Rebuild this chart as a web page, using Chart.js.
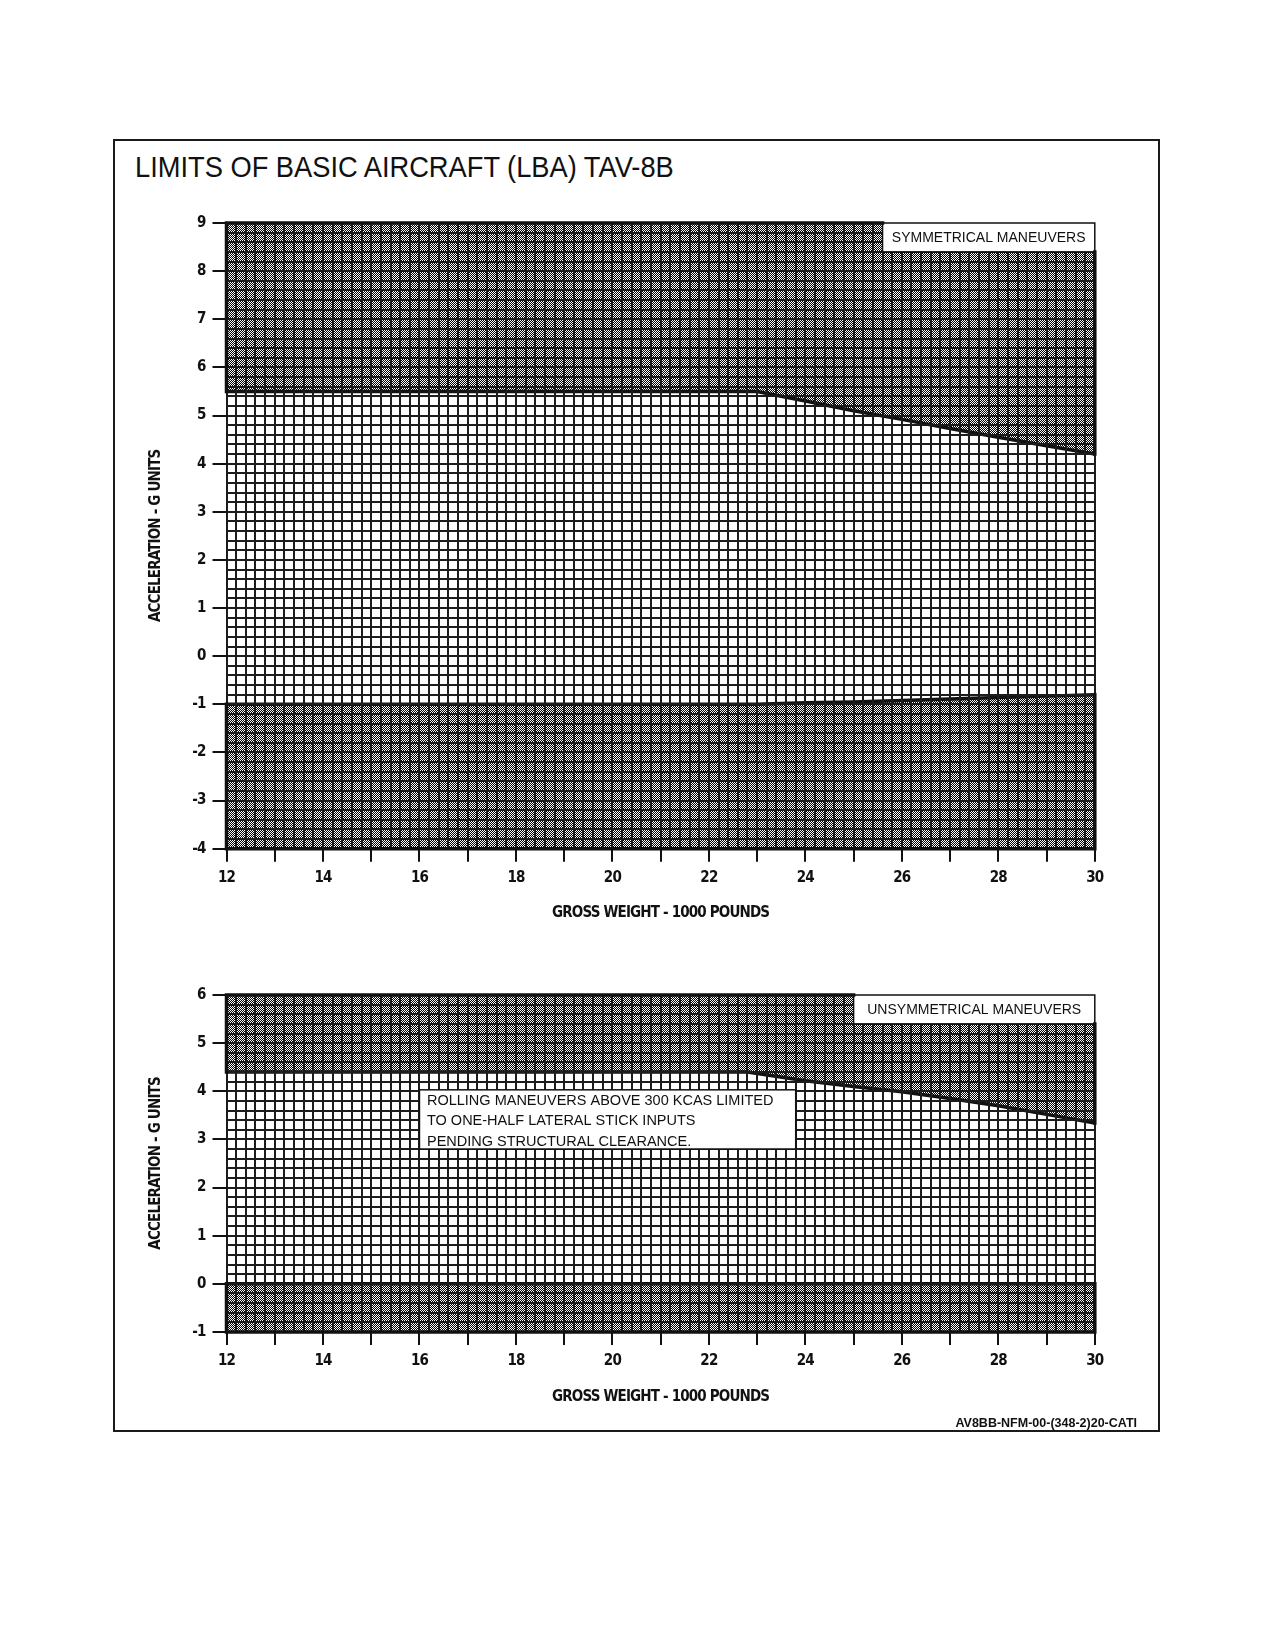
<!DOCTYPE html>
<html><head><meta charset="utf-8">
<script src="https://cdn.jsdelivr.net/npm/chart.js@4.4.0/dist/chart.umd.min.js"></script>
<style>
html,body{margin:0;padding:0;background:#fff;}
body{width:1275px;height:1650px;position:relative;overflow:hidden;font-family:'Liberation Sans',Arial,sans-serif;color:#111;}
#frame{position:absolute;left:113px;top:139px;width:1043px;height:1289px;border:2px solid #1a1a1a;}
#title{position:absolute;left:135px;top:153px;font-size:29px;line-height:29px;white-space:nowrap;transform-origin:0 0;transform:scaleX(0.94);}
#footer{position:absolute;right:138px;top:1417px;font-size:12.5px;line-height:12px;font-weight:bold;white-space:nowrap;}
canvas{position:absolute;left:0;}
#c1{top:193px;}
#c2{top:955px;}
</style></head>
<body>
<div id="frame"></div>
<div id="title">LIMITS OF BASIC AIRCRAFT (LBA) TAV-8B</div>
<canvas id="c1" width="1275" height="740"></canvas>
<canvas id="c2" width="1275" height="480"></canvas>
<div id="footer">AV8BB-NFM-00-(348-2)20-CATI</div>
<script>
// ---- data ----
const weightsSym = [12, 23, 24, 25, 26, 27, 28, 29, 30];
const symPositive = [5.5, 5.5, 5.3, 5.1, 4.92, 4.73, 4.55, 4.37, 4.2];
const symNegative = [-1.0, -1.0, -0.97, -0.95, -0.92, -0.89, -0.86, -0.83, -0.8];
const weightsUnsym = [12, 22.8, 24, 25, 26, 27, 28, 29, 30];
const unsymPositive = [4.4, 4.4, 4.22, 4.1, 3.99, 3.85, 3.7, 3.52, 3.34];
const unsymNegative = [0, 0, 0, 0, 0, 0, 0, 0, 0];
const xRange = [12, 30];
const symYRange = [-4, 9];
const unsymYRange = [-1, 6];
const xTickLabels = [12, 14, 16, 18, 20, 22, 24, 26, 28, 30];
const symYTickLabels = [-4, -3, -2, -1, 0, 1, 2, 3, 4, 5, 6, 7, 8, 9];
const unsymYTickLabels = [-1, 0, 1, 2, 3, 4, 5, 6];
const xTitle = 'GROSS WEIGHT - 1000 POUNDS';
const yTitle = 'ACCELERATION - G UNITS';
const symLabel = 'SYMMETRICAL MANEUVERS';
const unsymLabel = 'UNSYMMETRICAL MANEUVERS';
const symLabelBox = [25.6, 30, 8.4, 9];      // x0, x1, y0, y1 in data units
const unsymLabelBox = [25.0, 30, 5.4, 6];
const noteLines = ['ROLLING MANEUVERS ABOVE 300 KCAS LIMITED', 'TO ONE-HALF LATERAL STICK INPUTS', 'PENDING STRUCTURAL CLEARANCE.'];
const noteBox = [16.0, 23.8, 2.8, 4.03];

// ---- fonts ----
const FAM = '"DejaVu Sans Condensed", "Liberation Sans Narrow", "DejaVu Sans", sans-serif';
const tickFont = {family: FAM, size: 15, weight: 'bold'};
const axisTitleFont = {family: FAM, size: 15, weight: 'bold'};
const mc = document.createElement('canvas').getContext('2d');
mc.font = 'bold 15px ' + FAM;
const measured = mc.measureText(xTitle).width;
const LS = Math.max(-1.6, Math.min(0, (218 - measured) / (xTitle.length - 1)));
const SMALL = '14px "Liberation Sans", Arial, sans-serif';
const NOTE = '14.5px "Liberation Sans", Arial, sans-serif';

const INK = '#111';
const GRID = '#1c1c1c';
const isInt = v => Math.abs(v - Math.round(v)) < 1e-6;

function makePattern(ctx){
  const t = document.createElement('canvas'); t.width = 4; t.height = 4;
  const g = t.getContext('2d');
  g.fillStyle = '#fff'; g.fillRect(0,0,4,4);
  g.fillStyle = '#000';
  for (let y=0;y<4;y++) for (let x=0;x<4;x++) if ((x+y)%2===0) g.fillRect(x,y,1,1);
  return ctx.createPattern(t, 'repeat');
}

function scales(yr, yLabels, xH, yW){
  return {
    x: {
      type: 'linear', min: xRange[0], max: xRange[1],
      afterFit: s => { s.height = xH; },
      border: {display: false},
      grid: {z: 1, color: GRID, lineWidth: 2, tickLength: 13, tickWidth: 2,
             tickColor: c => isInt(c.tick.value) ? INK : 'rgba(0,0,0,0)'},
      ticks: {stepSize: 0.2, autoSkip: false, maxRotation: 0, minRotation: 0, padding: 7, color: INK, font: tickFont,
              callback: v => (isInt(v) && xTickLabels.includes(Math.round(v))) ? String(Math.round(v)) : ''},
      title: {display: true, text: xTitle, color: INK, font: axisTitleFont, padding: {top: 0, bottom: 7}}
    },
    y: {
      type: 'linear', min: yr[0], max: yr[1],
      afterFit: s => { s.width = yW; },
      border: {display: false},
      grid: {z: 1, color: GRID, lineWidth: 2, tickLength: 14, tickWidth: 2,
             tickColor: c => isInt(c.tick.value) ? INK : 'rgba(0,0,0,0)'},
      ticks: {stepSize: 0.2, autoSkip: false, padding: 7, color: INK, font: tickFont,
              callback: v => (isInt(v) && yLabels.includes(Math.round(v))) ? String(Math.round(v)) : ''},
      title: {display: true, text: yTitle, color: INK, font: axisTitleFont, padding: {top: 15, bottom: 0}}
    }
  };
}

const spacingPlugin = {
  id: 'spacing',
  beforeUpdate(chart){ chart.ctx.letterSpacing = LS + 'px'; },
  beforeDraw(chart){ chart.ctx.letterSpacing = LS + 'px'; }
};

function annotPlugin(labelText, labelBox, posFirst, posLast, negFirst, negLast, note){
  return {
    id: 'annot',
    afterDraw(chart){
      const {ctx, scales: {x, y}} = chart;
      const X = v => x.getPixelForValue(v), Y = v => y.getPixelForValue(v);
      ctx.save();
      ctx.letterSpacing = '0px';
      // label box
      const bx0 = X(labelBox[0]), bx1 = X(labelBox[1]), by0 = Y(labelBox[3]), by1 = Y(labelBox[2]);
      ctx.fillStyle = '#fff';
      ctx.fillRect(bx0, by0 - 1, bx1 - bx0 + 2, by1 - by0 + 1);
      ctx.strokeStyle = INK; ctx.lineWidth = 1.5;
      ctx.strokeRect(bx0, by0, bx1 - bx0, by1 - by0);
      ctx.fillStyle = INK; ctx.font = SMALL; ctx.textAlign = 'center'; ctx.textBaseline = 'middle';
      ctx.fillText(labelText, (bx0 + bx1) / 2, (by0 + by1) / 2 + 1);
      // thick outlines of restricted regions
      ctx.lineWidth = 3.5; ctx.lineJoin = 'miter'; ctx.lineCap = 'square';
      ctx.beginPath();
      ctx.moveTo(X(xRange[0]), Y(posFirst)); ctx.lineTo(X(xRange[0]), Y(y.max)); ctx.lineTo(bx0, Y(y.max));
      ctx.moveTo(X(xRange[1]), by1); ctx.lineTo(X(xRange[1]), Y(posLast));
      ctx.moveTo(X(xRange[0]), Y(negFirst)); ctx.lineTo(X(xRange[0]), Y(y.min)); ctx.lineTo(X(xRange[1]), Y(y.min)); ctx.lineTo(X(xRange[1]), Y(negLast));
      ctx.stroke();
      // note box
      if (note){
        const nx0 = X(note.box[0]), nx1 = X(note.box[1]), ny0 = Y(note.box[3]), ny1 = Y(note.box[2]);
        ctx.fillStyle = '#fff'; ctx.fillRect(nx0, ny0, nx1 - nx0, ny1 - ny0);
        ctx.lineWidth = 1.5; ctx.strokeStyle = INK; ctx.strokeRect(nx0, ny0, nx1 - nx0, ny1 - ny0);
        ctx.fillStyle = INK; ctx.font = NOTE; ctx.textAlign = 'left'; ctx.textBaseline = 'middle';
        note.lines.forEach((t, i) => ctx.fillText(t, nx0 + 7.5, ny0 + 11 + i * 20.5));
      }
      ctx.restore();
    }
  };
}

function build(canvasId, weights, pos, neg, yr, yLabels, xH, yW, pad, labelText, labelBox, note){
  const cv = document.getElementById(canvasId);
  const pat = makePattern(cv.getContext('2d'));
  return new Chart(cv, {
    type: 'line',
    data: {
      datasets: [
        {data: weights.map((w, i) => ({x: w, y: pos[i]})), fill: 'end', backgroundColor: pat, borderColor: INK, borderWidth: 3.5, pointRadius: 0, tension: 0},
        {data: weights.map((w, i) => ({x: w, y: neg[i]})), fill: 'start', backgroundColor: pat, borderColor: INK, borderWidth: 3.5, pointRadius: 0, tension: 0}
      ]
    },
    options: {
      responsive: false, animation: false, devicePixelRatio: 1,
      layout: {padding: pad},
      plugins: {legend: {display: false}, tooltip: {enabled: false}, title: {display: false}},
      scales: scales(yr, yLabels, xH, yW)
    },
    plugins: [spacingPlugin, annotPlugin(labelText, labelBox, pos[0], pos[pos.length - 1], neg[0], neg[neg.length - 1], note)]
  });
}

build('c1', weightsSym, symPositive, symNegative, symYRange, symYTickLabels, 80.3, 94.5,
      {left: 132, right: 180.2, top: 30, bottom: 4}, symLabel, symLabelBox, null);
build('c2', weightsUnsym, unsymPositive, unsymNegative, unsymYRange, unsymYTickLabels, 81.1, 94.5,
      {left: 132, right: 180.2, top: 40, bottom: 22}, unsymLabel, unsymLabelBox, {box: noteBox, lines: noteLines});
</script>
</body></html>
